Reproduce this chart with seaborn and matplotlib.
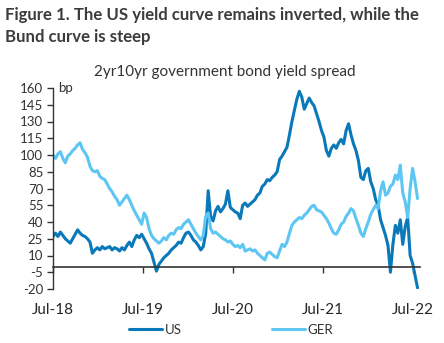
import numpy as np
import pandas as pd
import matplotlib
matplotlib.use("Agg")
import matplotlib.pyplot as plt
from matplotlib.lines import Line2D
import seaborn as sns

# ---- data (readings every 10 days, bp) ----
dates = pd.date_range("2018-07-01", "2022-07-20", freq="10D")
us = [27, 30, 27, 31, 28, 25, 23, 21, 25, 29,
      33, 30, 28, 27, 25, 22, 12, 15, 17, 15,
      18, 16, 17, 18, 15, 17, 16, 14, 17, 15,
      19, 22, 18, 24, 28, 26, 29, 25, 21, 16,
      12, 4, -4, 2, 5, 8, 10, 12, 15, 17,
      19, 22, 21, 26, 30, 31, 28, 24, 22, 19,
      15, 18, 30, 68, 45, 41, 50, 54, 49, 52,
      56, 68, 53, 51, 49, 48, 43, 55, 57, 54,
      56, 58, 60, 64, 66, 72, 74, 78, 77, 80,
      82, 85, 96, 99, 103, 107, 118, 130, 140, 150,
      157, 152, 141, 146, 151, 147, 144, 137, 130, 122,
      116, 104, 99, 106, 109, 106, 111, 114, 110, 122,
      128, 118, 110, 104, 95, 80, 78, 86, 88, 76,
      70, 60, 55, 42, 35, 28, 19, -5, 20, 37,
      30, 42, 20, 36, 44, 10, 3, -8, -19]
ger = [100, 97, 101, 103, 97, 93, 99, 101, 104, 106,
       109, 111, 105, 102, 98, 90, 86, 85, 86, 81,
       79, 78, 74, 70, 67, 63, 60, 55, 58, 61,
       64, 60, 55, 50, 46, 42, 38, 48, 44, 34,
       28, 25, 23, 21, 23, 26, 24, 28, 30, 29,
       33, 35, 34, 38, 40, 42, 38, 34, 30, 27,
       24, 28, 45, 48, 34, 30, 31, 29, 27, 25,
       24, 22, 23, 20, 18, 19, 17, 20, 14, 15,
       16, 14, 15, 12, 10, 8, 6, 12, 13, 11,
       9, 8, 14, 20, 18, 22, 30, 37, 40, 42,
       44, 43, 46, 48, 51, 54, 55, 51, 50, 49,
       46, 43, 39, 34, 30, 29, 33, 38, 40, 45,
       48, 52, 50, 43, 37, 30, 27, 34, 40, 47,
       51, 55, 52, 68, 76, 64, 66, 72, 74, 82,
       78, 91, 66, 58, 44, 70, 88, 76, 61]
series_names = ["US", "GER"]
yticks = list(range(-20, 161, 15))
xtick_years = [2018, 2019, 2020, 2021, 2022]
xtick_labels = ["Jul-18", "Jul-19", "Jul-20", "Jul-21", "Jul-22"]

title = "Figure 1. The US yield curve remains inverted, while the\nBund curve is steep"
subtitle = "2yr10yr government bond yield spread"

n = min(len(dates), len(us), len(ger))
df = pd.concat([
    pd.DataFrame({"date": dates[:n], "value": us[:n], "series": "US"}),
    pd.DataFrame({"date": dates[:n], "value": ger[:n], "series": "GER"}),
])

sns.set_theme(style="white")
plt.rcParams["font.family"] = ["Lato", "DejaVu Sans"]

W, H = 444, 343
fig = plt.figure(figsize=(W / 100, H / 100), dpi=100)
ax = fig.add_axes([53 / W, 1 - 289 / H, 367 / W, 201 / H])

palette = {"US": "#0A79B9", "GER": "#5DC6F3"}
sns.lineplot(data=df, x="date", y="value", hue="series", hue_order=series_names,
             palette=palette, linewidth=2.2, ax=ax, legend=False)

ax.set_ylim(-20, 160)
ax.set_xlim(pd.Timestamp("2018-07-01"), pd.Timestamp("2022-07-30"))
ax.set_yticks(yticks)
ax.set_yticklabels([str(t) for t in yticks], fontsize=9.5, color="#333333")
xt = [pd.Timestamp(f"{y}-07-01") for y in xtick_years]
ax.set_xticks(xt)
ax.set_xticklabels(xtick_labels, fontsize=9.5, color="#333333")
ax.set_xlabel("")
ax.set_ylabel("")

for s in ["top", "right"]:
    ax.spines[s].set_visible(False)
ax.spines["left"].set_color("#333333")
ax.spines["left"].set_linewidth(1.0)
ax.spines["bottom"].set_position(("data", 0))
ax.spines["bottom"].set_color("#333333")
ax.spines["bottom"].set_linewidth(1.2)
ax.tick_params(axis="y", direction="out", length=4, width=1, color="#333333", pad=3, left=True)
ax.tick_params(axis="x", direction="out", length=4, width=1, color="#333333", pad=22, bottom=True)
ax.grid(False)

ax.text(0.015, 1.0, "bp", transform=ax.transAxes, fontsize=9.5, color="#333333",
        ha="left", va="center")

fig.text(5 / W, 1 - 7 / H, title, fontsize=12.1, fontweight="bold", color="#3c3c3c",
         ha="left", va="top", linespacing=1.45)
fig.text(225 / W, 1 - 72 / H, subtitle, fontsize=11, color="#333333",
         ha="center", va="center")

handles = [Line2D([], [], color=palette[s], linewidth=2.2) for s in series_names]
fig.legend(handles, series_names, loc="center", bbox_to_anchor=(231 / W, 1 - 330 / H),
           ncol=2, frameon=False, fontsize=9.5, handlelength=2.5, handletextpad=0.25,
           columnspacing=6.8, labelcolor="#333333")

fig.savefig("out.png", dpi=100)
